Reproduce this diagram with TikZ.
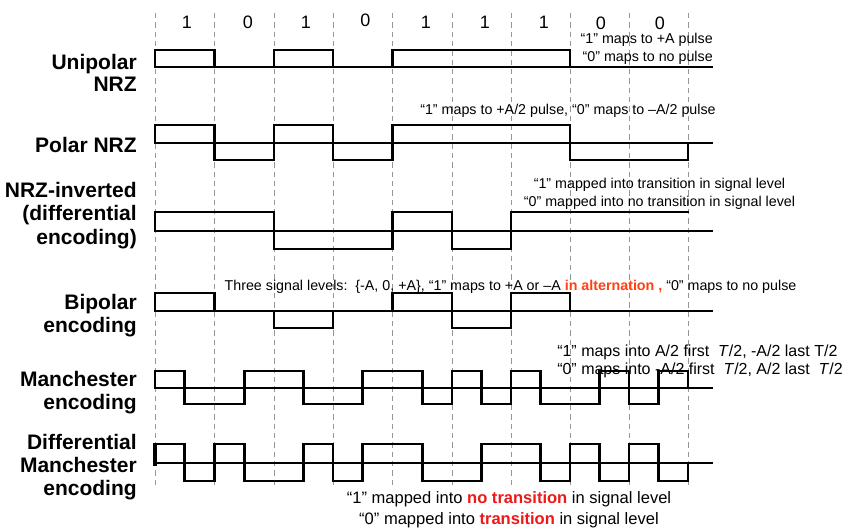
\documentclass[tikz,border=0pt]{standalone}
\usepackage{fontspec}
\setmainfont{Liberation Sans}
\definecolor{altred}{RGB}{255,64,16}
\definecolor{dmred}{RGB}{235,25,25}
\definecolor{gridgray}{RGB}{150,150,150}
\begin{document}
\begin{tikzpicture}[x=0.75pt,y=-0.75pt,
  wave/.style={line width=2pt, line join=miter, line cap=rect},
  gridline/.style={gridgray, line width=0.7pt, dash pattern=on 4pt off 3pt},
  lbl/.style={font=\fontsize{15.75}{18}\selectfont\bfseries, inner sep=0, anchor=base east},
  ann/.style={font=\fontsize{10.7}{12}\selectfont, inner sep=0},
  mann/.style={font=\fontsize{12}{14}\selectfont, inner sep=0, anchor=base west},
  dann/.style={font=\fontsize{12.4}{14}\selectfont, inner sep=0, anchor=base},
  bit/.style={font=\fontsize{13.5}{15}\selectfont, inner sep=0, anchor=base}]
\useasboundingbox (0,0) rectangle (847,532);
% grid
\foreach \x in {155,214.5,274,333,392.5,452,511,570,629,688}
  \draw[gridline] (\x,13) -- (\x,485);
% bits
\node[bit] (b1) at (187,28) {1};
\node[bit] (b2) at (248,28) {0};
\node[bit] (b3) at (306,28) {1};
\node[bit] (b4) at (365.5,26) {0};
\node[bit] (b5) at (426,28) {1};
\node[bit] (b6) at (485,28) {1};
\node[bit] (b7) at (544,28) {1};
\node[bit] (b8) at (601,29) {0};
\node[bit] (b9) at (660,29) {0};
% labels
\node[lbl] (l1a) at (137,69) {Unipolar};
\node[lbl] (l1b) at (137,91) {NRZ};
\node[lbl] (l2a) at (137,152) {Polar NRZ};
\node[lbl] (l3a) at (137,197) {NRZ-inverted};
\node[lbl] (l3b) at (137,220) {(differential};
\node[lbl] (l3c) at (137,244) {encoding)};
\node[lbl] (l4a) at (137,309) {Bipolar};
\node[lbl] (l4b) at (137,332) {encoding};
\node[lbl] (l5a) at (137,386) {Manchester};
\node[lbl] (l5b) at (137,409) {encoding};
\node[lbl] (l6a) at (137,449) {Differential};
\node[lbl] (l6b) at (137,472) {Manchester};
\node[lbl] (l6c) at (137,495) {encoding};
% row 1 unipolar
\node[ann, anchor=base east] (t1a) at (713,43) {“1” maps to +A pulse};
\node[ann, anchor=base east] (t1b) at (713,61) {“0” maps to no pulse};
\draw[wave] (155,67) -- (712,67);
\draw[wave] (155,67) -- (155,50) -- (214.5,50) -- (214.5,67);
\draw[wave] (274,67) -- (274,50) -- (333,50) -- (333,67);
\draw[wave] (392.5,67) -- (392.5,50) -- (570,50) -- (570,67);
% row 2 polar
\node[ann, anchor=base] (t2a) at (568,114) {“1” maps to +A/2 pulse, “0” maps to –A/2 pulse};
\draw[wave] (155,143) -- (712,143);
\draw[wave] (155,143) -- (155,125) -- (214.5,125) -- (214.5,160) -- (274,160) -- (274,125) -- (333,125) -- (333,160) -- (392.5,160) -- (392.5,125) -- (570,125) -- (570,160) -- (688,160) -- (688,143);
% row 3 NRZI
\node[ann, anchor=base] (t3a) at (659.5,188) {“1” mapped into transition in signal level};
\node[ann, anchor=base] (t3b) at (659.5,206) {“0” mapped into no transition in signal level};
\draw[wave] (155,231) -- (712,231);
\draw[wave] (155,231) -- (155,212) -- (274,212) -- (274,249) -- (392.5,249) -- (392.5,212) -- (452,212) -- (452,249) -- (511,249) -- (511,212) -- (688,212);
% row 4 bipolar
\node[ann, anchor=base] (t4a) at (510.5,290) {Three signal levels:\ \ \{-A, 0, +A\}, “1” maps to +A or –A \textbf{\textcolor{altred}{in alternation ,}} “0” maps to no pulse};
\draw[wave] (155,311) -- (712,311);
\draw[wave] (155,311) -- (155,293) -- (214.5,293) -- (214.5,311);
\draw[wave] (274,311) -- (274,328) -- (333,328) -- (333,311);
\draw[wave] (392.5,311) -- (392.5,293) -- (452,293) -- (452,328) -- (511,328) -- (511,293) -- (570,293) -- (570,311);
% row 5 manchester
\node[mann] (t5a) at (557,356) {“1” maps into A/2 first \ \textit{T}/2, -A/2 last T/2};
\node[mann] (t5b) at (557,374) {“0” maps into -A/2 first \ \textit{T}/2, A/2 last \ \textit{T}/2};
\draw[wave] (155,388) -- (712,388);
\draw[wave] (155,388) -- (155,371) -- (184.75,371) -- (184.75,404) -- (244.25,404) -- (244.25,371) -- (303.5,371) -- (303.5,404) -- (362.75,404) -- (362.75,371) -- (422.25,371) -- (422.25,404) -- (452,404) -- (452,371) -- (481.5,371) -- (481.5,404) -- (511,404) -- (511,371) -- (540.5,371) -- (540.5,404) -- (599.5,404) -- (599.5,371) -- (629,371) -- (629,404) -- (658.5,404) -- (658.5,371) -- (688,371) -- (688,388);
% row 6 differential manchester
\draw[wave] (155,463) -- (712,463);
\draw[line width=3pt] (155,442.5) -- (155,466);
\draw[wave] (155,444) -- (184.75,444) -- (184.75,481) -- (214.5,481) -- (214.5,444) -- (244.25,444) -- (244.25,481) -- (303.5,481) -- (303.5,444) -- (333,444) -- (333,481) -- (362.75,481) -- (362.75,444) -- (422.25,444) -- (422.25,481) -- (481.5,481) -- (481.5,444) -- (540.5,444) -- (540.5,481) -- (570,481) -- (570,444) -- (599.5,444) -- (599.5,481) -- (629,481) -- (629,444) -- (658.5,444) -- (658.5,481) -- (688,481) -- (688,463);
\node[dann] (t6a) at (509,503) {“1” mapped into \textbf{\textcolor{dmred}{no transition}} in signal level};
\node[dann] (t6b) at (509,524) {“0” mapped into \textbf{\textcolor{dmred}{transition}} in signal level};
\end{tikzpicture}
\end{document}
